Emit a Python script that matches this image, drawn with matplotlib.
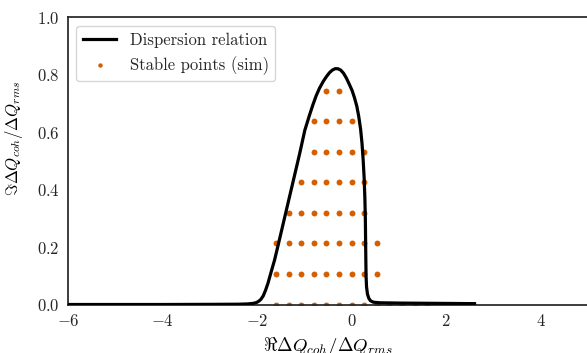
import numpy as np
import matplotlib
matplotlib.use("Agg")
import matplotlib.pyplot as plt

# Dispersion relation curve
curve_re = [-6.0, -4.0, -3.0, -2.4, -2.2, -2.08, -2.01, -1.96, -1.92, -1.87, -1.82, -1.77,
            -1.70, -1.63, -1.55, -1.40, -1.25, -1.10, -0.99, -0.89, -0.82, -0.75, -0.68,
            -0.60, -0.535, -0.47, -0.41, -0.35, -0.29, -0.23, -0.17, -0.11, -0.05, 0.01,
            0.06, 0.11, 0.15, 0.19, 0.22, 0.245, 0.265, 0.28, 0.29, 0.295, 0.30, 0.305,
            0.315, 0.335, 0.365, 0.40, 0.46, 0.6, 1.0, 1.8, 2.6]
curve_im = [0.0, 0.0, 0.0005, 0.001, 0.002, 0.004, 0.007, 0.012, 0.018, 0.03, 0.05, 0.074,
            0.115, 0.155, 0.21, 0.315, 0.42, 0.525, 0.607, 0.66, 0.695, 0.727, 0.753,
            0.777, 0.793, 0.807, 0.816, 0.821, 0.821, 0.816, 0.805, 0.788, 0.767, 0.745,
            0.72, 0.69, 0.655, 0.61, 0.56, 0.50, 0.44, 0.37, 0.30, 0.23, 0.16, 0.10,
            0.062, 0.036, 0.021, 0.013, 0.008, 0.006, 0.005, 0.004, 0.003]

# Stable points from simulation, grouped by row (imaginary part)
row_im = [0.0, 0.106, 0.213, 0.319, 0.425, 0.531, 0.638, 0.744]
row_re = [
    [-1.6, -1.333, -1.067, -0.8, -0.533, -0.267, 0.0, 0.267, 0.533, 0.8, 1.067, 1.333, 1.6],
    [-1.6, -1.333, -1.067, -0.8, -0.533, -0.267, 0.0, 0.267, 0.533],
    [-1.6, -1.333, -1.067, -0.8, -0.533, -0.267, 0.0, 0.267, 0.533],
    [-1.333, -1.067, -0.8, -0.533, -0.267, 0.0, 0.267],
    [-1.067, -0.8, -0.533, -0.267, 0.0, 0.267],
    [-0.8, -0.533, -0.267, 0.0, 0.267],
    [-0.8, -0.533, -0.267, 0.0],
    [-0.533, -0.267],
]

pts_re = [x for row in row_re for x in row]
pts_im = [y for row, y in zip(row_re, row_im) for _ in row]

plt.rcParams.update({
    "font.family": ["cmr10", "DejaVu Serif"],
    "mathtext.fontset": "cm",
    "axes.formatter.use_mathtext": True,
    "axes.unicode_minus": True,
    "axes.edgecolor": "#262626",
    "axes.linewidth": 1.25,
    "xtick.color": "#262626",
    "ytick.color": "#262626",
    "text.color": "#262626",
})

fig = plt.figure(figsize=(5.87, 3.53), dpi=100)
ax = fig.add_axes([68 / 587, (353 - 304.5) / 353, 520 / 587, 287.2 / 353])

ax.plot(curve_re, curve_im, color="black", lw=2.3, label="Dispersion relation",
        zorder=3, solid_joinstyle="round")
ax.scatter(pts_re, pts_im, s=18, color="#d55e00", linewidths=0,
           label="Stable points (sim)", zorder=2)

ax.set_xlim(-6, 5)
ax.set_ylim(0, 1.0)
ax.set_xticks([-6, -4, -2, 0, 2, 4])
ax.set_yticks([0.0, 0.2, 0.4, 0.6, 0.8, 1.0])
ax.tick_params(labelsize=12, length=0, pad=6)
for s in ["left", "bottom", "top", "right"]:
    ax.spines[s].set_visible(True)

ax.set_xlabel(r"$\Re\Delta Q_{coh}/\Delta Q_{rms}$", fontsize=13.5, labelpad=0)
ax.xaxis.set_label_coords(0.5, -0.105, transform=ax.transAxes)
ax.set_ylabel(r"$\Im\Delta Q_{coh}/\Delta Q_{rms}$", fontsize=12)
ax.yaxis.set_label_coords(-0.083, 0.578)

leg = ax.legend(loc="upper left", fontsize=12, frameon=True, fancybox=True,
                edgecolor="#cccccc", framealpha=0.8, markerscale=0.75)

fig.savefig("out.png", dpi=100)
